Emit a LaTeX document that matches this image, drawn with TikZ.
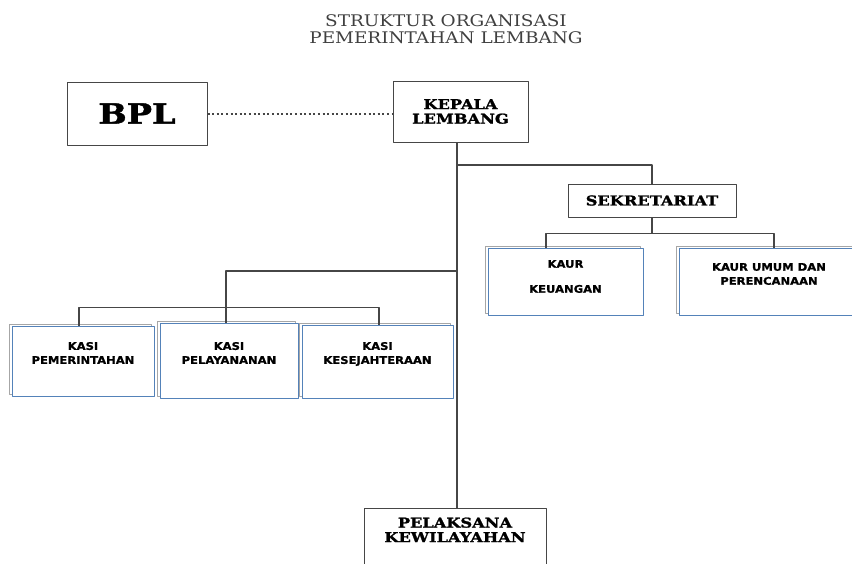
\documentclass[tikz,border=0pt]{standalone}
\usepackage{fontspec}
\setmainfont{DejaVu Serif}
\newfontfamily\headfont[FakeStretch=1.2, BoldFeatures={FakeBold=1.5}]{DejaVu Serif}
\newfontfamily\titlefont[FakeStretch=1.15]{DejaVu Serif}
\newfontfamily\boxfont[FakeStretch=1.1, BoldFeatures={FakeBold=1}]{DejaVu Sans}
\usetikzlibrary{shadows}
\definecolor{boxblue}{RGB}{84,130,185}
\definecolor{linegray}{RGB}{70,70,70}
\begin{document}
\begin{tikzpicture}[x=1pt, y=-1pt, line join=round,
	mainbox/.style={draw=linegray, line width=1pt, fill=white, align=center, font=\headfont\bfseries\fontsize{13.5}{14.5}\selectfont},
	bluebox/.style={draw=boxblue, line width=0.9pt, fill=white,
		copy shadow={shadow xshift=-3pt, shadow yshift=2pt, draw=gray!70, fill=white, line width=1pt}},
	lbl/.style={anchor=north, align=center, font=\boxfont\bfseries\fontsize{10.5}{14}\selectfont},
	conn/.style={draw=linegray, line width=1.2pt}]
	\useasboundingbox (0,0) rectangle (852,563);
	% title
	\node[align=center, text=black!75, font=\titlefont\fontsize{16}{16.5}\selectfont] (title) at (446,29) {STRUKTUR ORGANISASI\\PEMERINTAHAN LEMBANG};
	% top row
	\node[mainbox, minimum width=140pt, minimum height=63pt, font=\headfont\bfseries\fontsize{28}{30}\selectfont] (bpl) at (137,113.5) {BPL};
	\node[mainbox, minimum width=135pt, minimum height=61pt] (kepala) at (460.5,111.5) {KEPALA\\LEMBANG};
	\draw[linegray, line width=2pt, dash pattern=on 2pt off 2.6pt] (bpl.east) -- (bpl.east -| kepala.west);
	\coordinate (spine) at (457,142);
	% sekretariat and kaur
	\node[mainbox, minimum width=168pt, minimum height=33pt] (sekretariat) at (652,200.5) {SEKRETARIAT};
	\node[bluebox, minimum width=155pt, minimum height=67pt, label={[lbl, yshift=-9pt]north:KAUR\\[11pt]KEUANGAN}] (kaurkeu) at (565.5,281.5) {};
	\node[bluebox, minimum width=180pt, minimum height=67pt, label={[lbl, yshift=-12pt]north:KAUR UMUM DAN\\PERENCANAAN}] (kaurumum) at (769,281.5) {};
	% kasi
	\node[bluebox, minimum width=142pt, minimum height=70pt, label={[lbl, yshift=-13pt]north:KASI\\PEMERINTAHAN}] (kasipem) at (83,361) {};
	\node[bluebox, minimum width=138pt, minimum height=75pt, label={[lbl, yshift=-16pt]north:KASI\\PELAYANANAN}] (kasipel) at (229,360.5) {};
	\node[bluebox, minimum width=151pt, minimum height=73pt, label={[lbl, yshift=-14pt]north:KASI\\KESEJAHTERAAN}] (kasikes) at (377.5,361.5) {};
	% pelaksana
	\node[mainbox, minimum width=182pt, minimum height=66pt, anchor=north] (pelaksana) at (455,508) {};
	\node[font=\headfont\bfseries\fontsize{13.5}{14.5}\selectfont, align=center, anchor=north] (pelaksanatext) at (455,514) {PELAKSANA\\KEWILAYAHAN};
	% connectors
	\draw[conn] (spine) -- (spine |- pelaksana.north);
	\draw[conn] (spine |- 0,165) -| (sekretariat.north);
	\draw[conn] (sekretariat.south) -- ++(0,16) coordinate (kaurbus);
	\draw[conn] ([xshift=-19.5pt]kaurkeu.north) |- (kaurbus) -| ([xshift=5pt]kaurumum.north);
	\draw[conn] (spine |- 0,271) -| ([xshift=-3pt]kasipel.north);
	\draw[conn] ([xshift=-4pt]kasipem.north) |- ([xshift=1.5pt, yshift=17pt]kasikes.north) -- ([xshift=1.5pt]kasikes.north);
\end{tikzpicture}
\end{document}
